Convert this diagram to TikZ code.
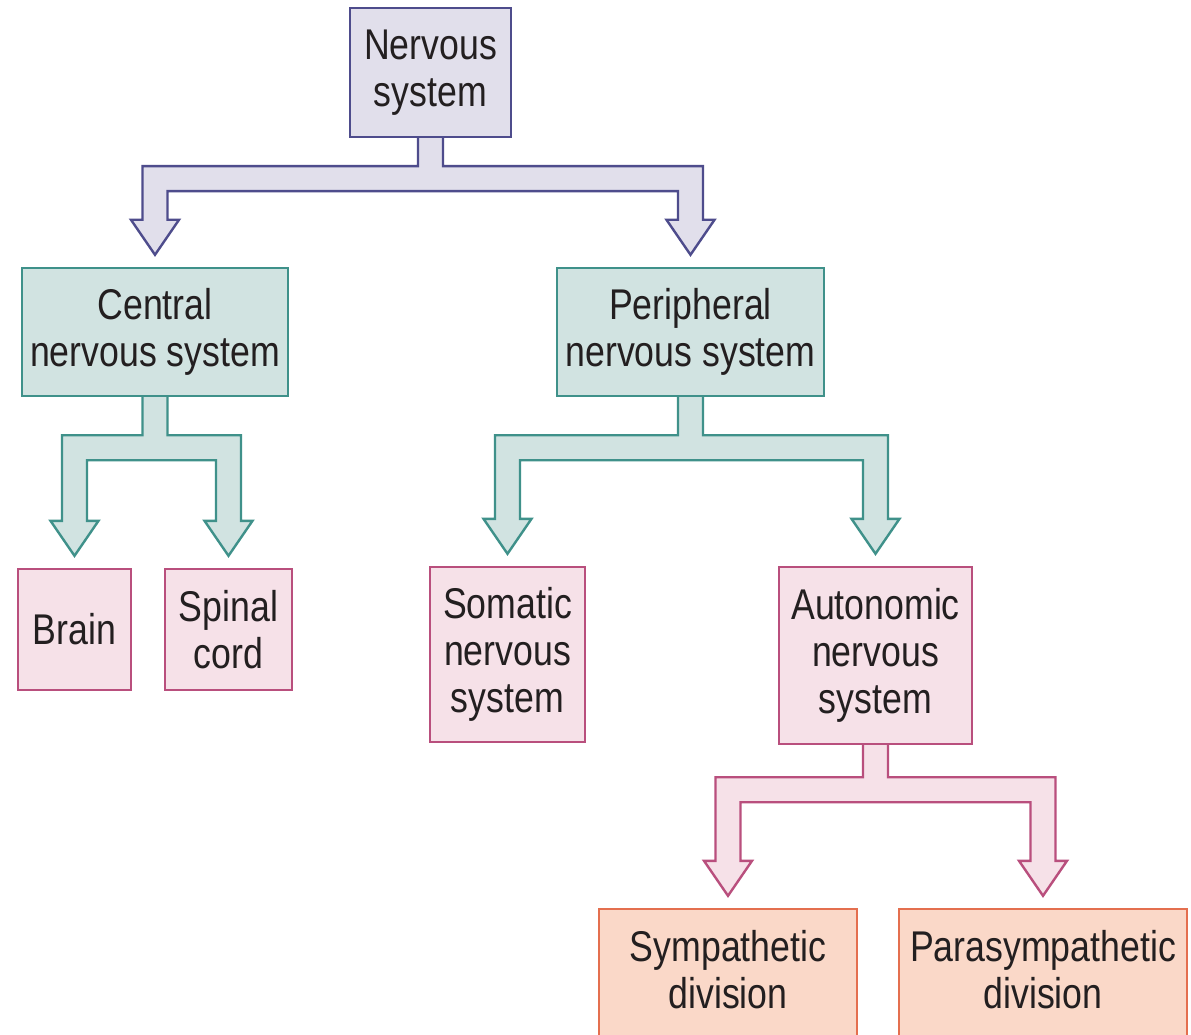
\documentclass[tikz,border=0pt]{standalone}
\usepackage{fontspec}
\setmainfont{Liberation Sans}[FakeStretch=0.83]
\usetikzlibrary{calc}
\definecolor{txt}{HTML}{231F20}
\definecolor{lavfill}{HTML}{E1DFEB}
\definecolor{lavline}{HTML}{4E4C8C}
\definecolor{tealfill}{HTML}{D1E3E1}
\definecolor{tealline}{HTML}{3F918A}
\definecolor{pinkfill}{HTML}{F6E1E8}
\definecolor{pinkline}{HTML}{B94F7D}
\definecolor{orfill}{HTML}{FAD8C8}
\definecolor{orline}{HTML}{E46F4F}
\tikzset{
  box/.style={draw, line width=2.4pt, inner sep=0pt, align=center, text=txt,
    font=\fontsize{43}{47}\selectfont},
  lavbox/.style={box, fill=lavfill, draw=lavline},
  tealbox/.style={box, fill=tealfill, draw=tealline},
  pinkbox/.style={box, fill=pinkfill, draw=pinkline},
  orbox/.style={box, fill=orfill, draw=orline},
  lavarrow/.style={fill=lavfill, draw=lavline, line width=2.4pt, line join=miter},
  tealarrow/.style={fill=tealfill, draw=tealline, line width=2.4pt, line join=miter},
  pinkarrow/.style={fill=pinkfill, draw=pinkline, line width=2.4pt, line join=miter},
}
\newcommand\raisedlines[1]{\raisebox{6pt}{\begin{tabular}{@{}c@{}}#1\end{tabular}}}
% #1 source node, #2 left target, #3 right target, #4 drop to bar top, #5 style
\newcommand\forkarrow[5]{%
  \path[#5] let \p1=(#1.south), \p2=(#2.north), \p3=(#3.north) in
    (\x1-12.5pt,\y1+2pt) -- (\x1-12.5pt,\y1-#4) -- (\x2-12.5pt,\y1-#4)
    -- (\x2-12.5pt,\y2+47pt) -- (\x2-24pt,\y2+47pt) -- (\x2,\y2+12pt)
    -- (\x2+24pt,\y2+47pt) -- (\x2+12.5pt,\y2+47pt) -- (\x2+12.5pt,\y1-#4-25pt)
    -- (\x3-12.5pt,\y1-#4-25pt) -- (\x3-12.5pt,\y3+47pt) -- (\x3-24pt,\y3+47pt)
    -- (\x3,\y3+12pt) -- (\x3+24pt,\y3+47pt) -- (\x3+12.5pt,\y3+47pt)
    -- (\x3+12.5pt,\y1-#4) -- (\x1+12.5pt,\y1-#4) -- (\x1+12.5pt,\y1+2pt);
}
\begin{document}
\begin{tikzpicture}[x=1pt,y=-1pt]
\useasboundingbox (0,0) rectangle (1191,1035);
\fill[white] (0,0) rectangle (1191,1035);

\node[lavbox, minimum width=161pt, minimum height=129pt] (ns) at (430.5,72.5) {Nervous\\system};
\node[tealbox, minimum width=266pt, minimum height=128pt] (cns) at (155,332) {Central\\nervous system};
\node[tealbox, minimum width=267pt, minimum height=128pt] (pns) at (690.5,332) {Peripheral\\nervous system};
\node[pinkbox, minimum width=113pt, minimum height=121pt] (brain) at (74.5,629.5) {Brain};
\node[pinkbox, minimum width=127pt, minimum height=121pt] (spinal) at (228.5,629.5) {Spinal\\cord};
\node[pinkbox, minimum width=155pt, minimum height=175pt] (som) at (507.5,654.5) {Somatic\\nervous\\system};
\node[pinkbox, minimum width=193pt, minimum height=177pt] (ans) at (875.5,655.5) {Autonomic\\nervous\\system};
\node[orbox, minimum width=258pt, minimum height=134pt] (sym) at (728,976) {\raisedlines{Sympathetic\\division}};
\node[orbox, minimum width=288pt, minimum height=134pt] (para) at (1043,976) {\raisedlines{Parasympathetic\\division}};

\forkarrow{ns}{cns}{pns}{28pt}{lavarrow}
\forkarrow{cns}{brain}{spinal}{38pt}{tealarrow}
\forkarrow{pns}{som}{ans}{38pt}{tealarrow}
\forkarrow{ans}{sym}{para}{32pt}{pinkarrow}

% redraw source boxes over the stem tops
\node[lavbox, minimum width=161pt, minimum height=129pt] at (ns) {Nervous\\system};
\node[tealbox, minimum width=266pt, minimum height=128pt] at (cns) {Central\\nervous system};
\node[tealbox, minimum width=267pt, minimum height=128pt] at (pns) {Peripheral\\nervous system};
\node[pinkbox, minimum width=193pt, minimum height=177pt] at (ans) {Autonomic\\nervous\\system};
\end{tikzpicture}
\end{document}
